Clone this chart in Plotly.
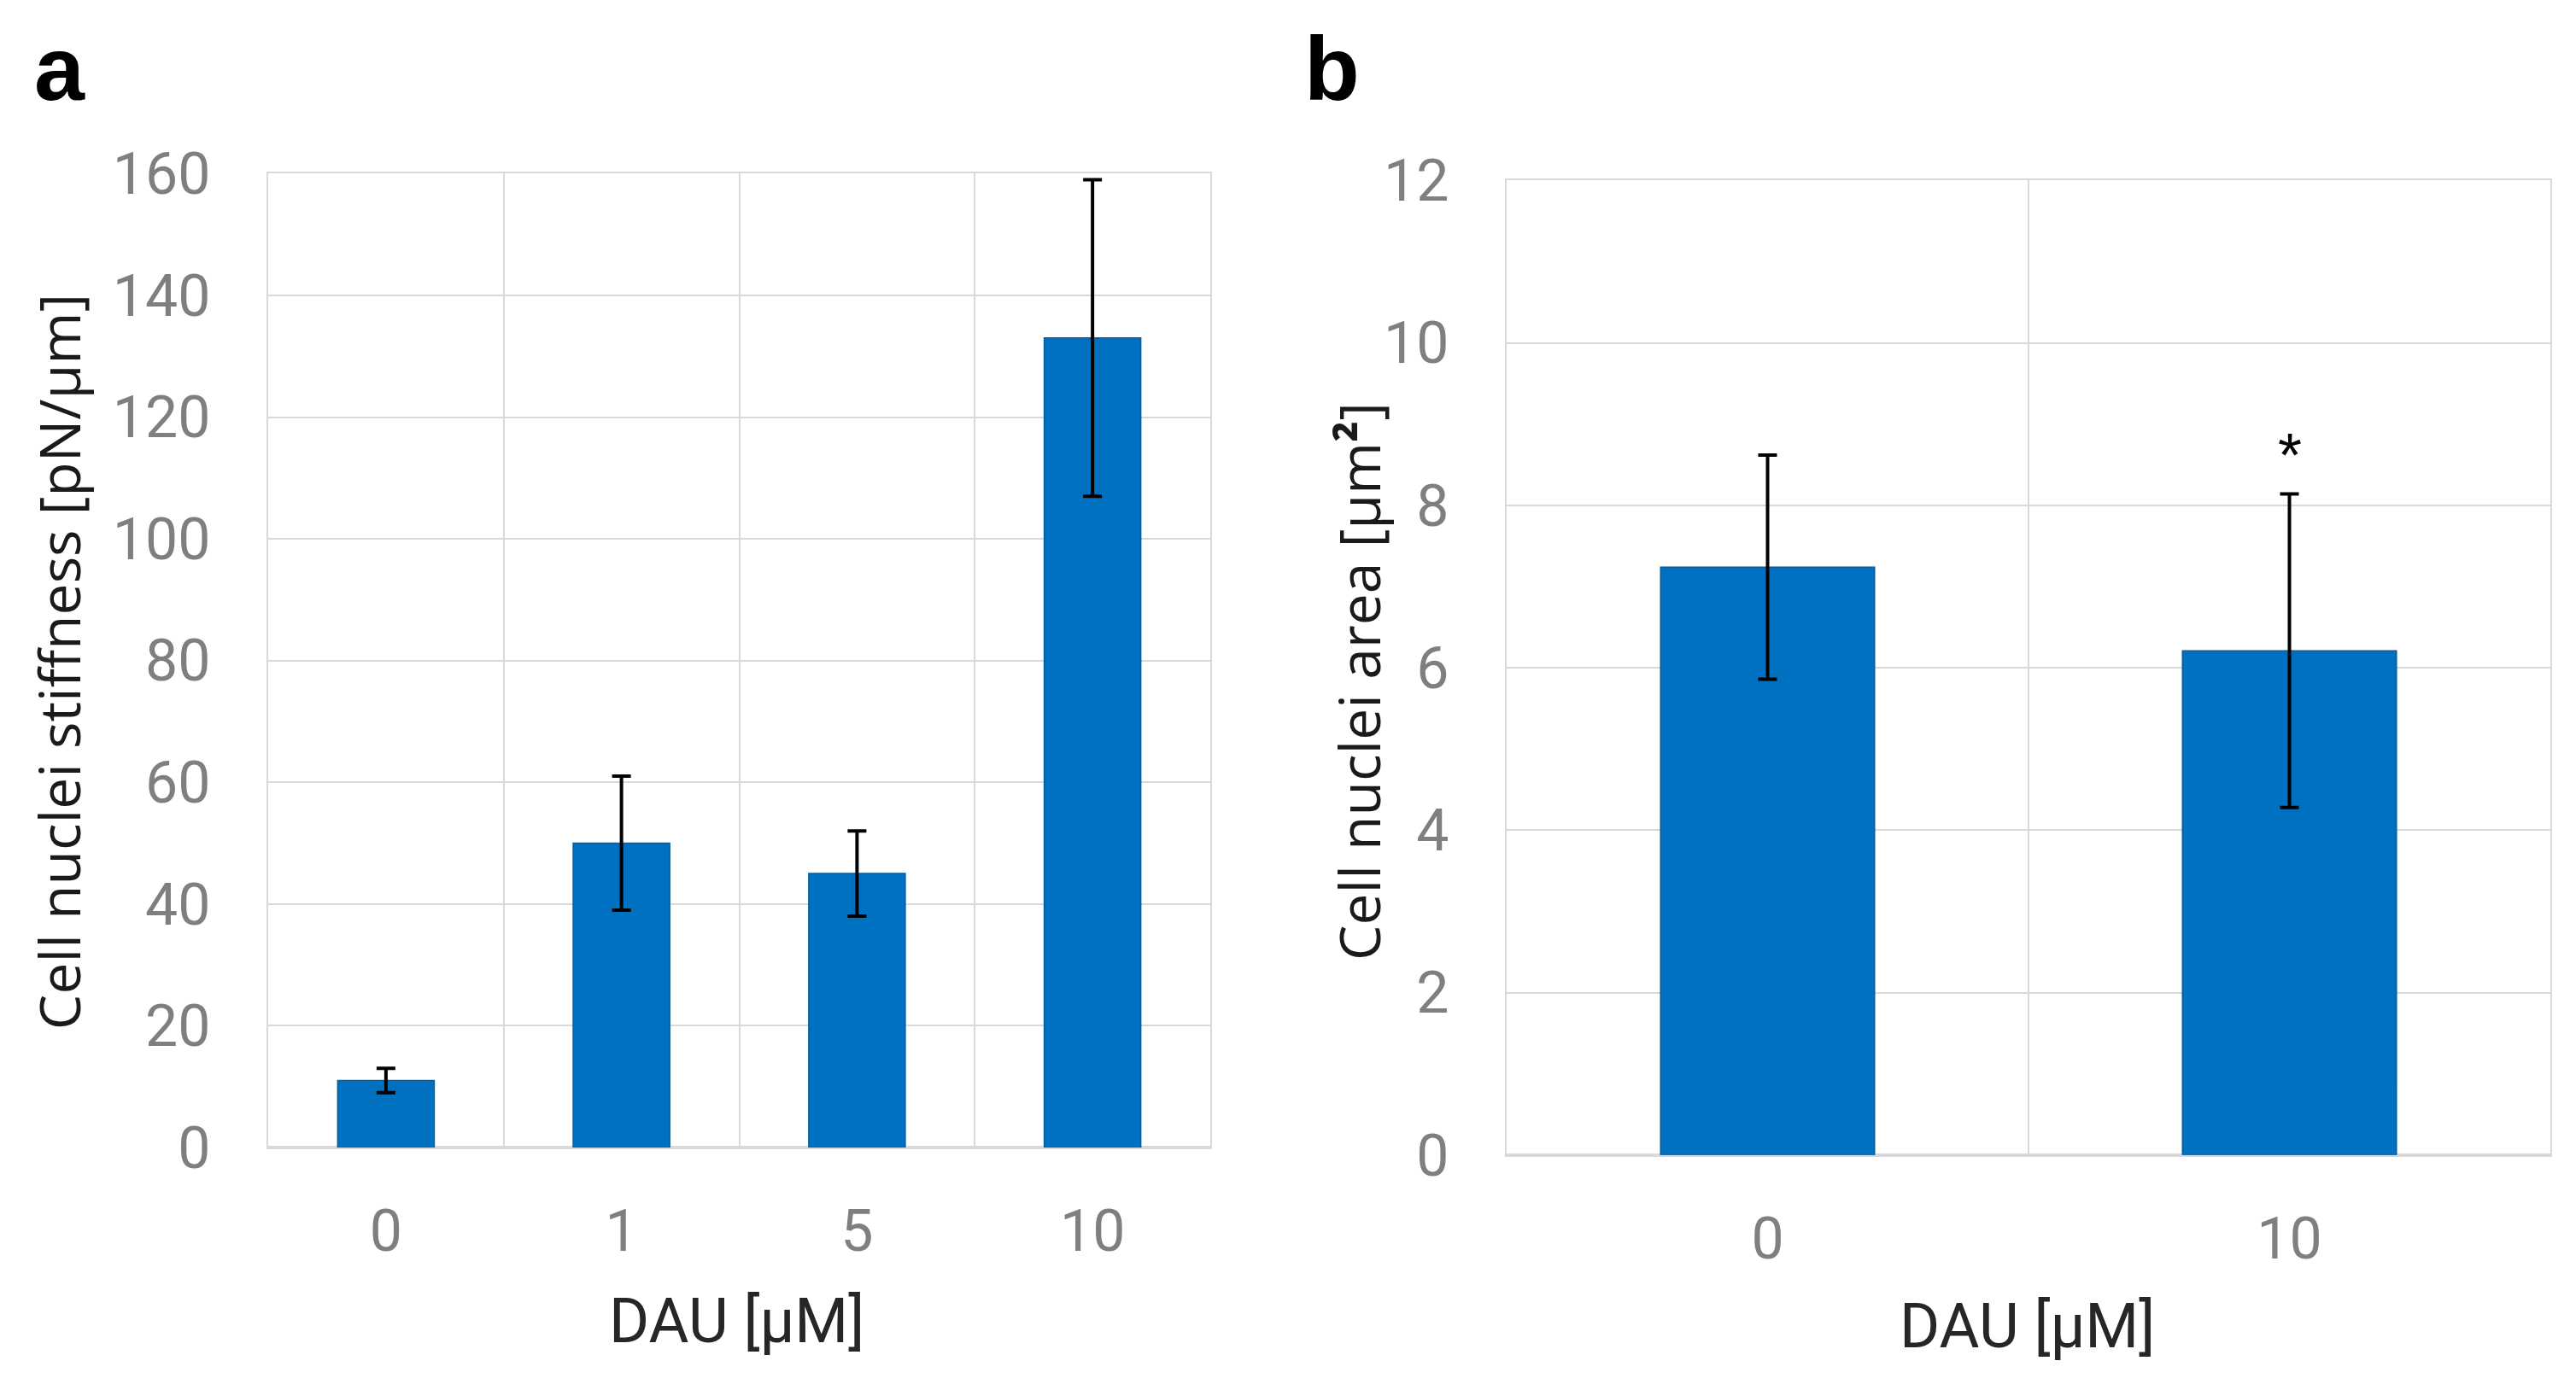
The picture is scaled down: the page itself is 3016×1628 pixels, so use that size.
import plotly.graph_objects as go

# Panel a data
cats_a = ["0", "1", "5", "10"]
stiff_mean = [11, 50, 45, 133]
stiff_err = [2, 11, 7, 26]

# Panel b data
cats_b = ["0", "10"]
area_mean = [7.24, 6.21]
area_err = [1.38, 1.93]
sig_b = ["", "*"]

BAR = "#0070C0"
GRID = "#D9D9D9"
TICKC = "#7F7F7F"
TICKFONT = "Liberation Sans Narrow, Roboto, sans-serif"
TITLEFONT = "Open Sans, Noto Sans, sans-serif"

H = 1628.0
W = 3016.0
def fy(px):
    # vertical pixel (from top) -> paper fraction, with empirical render correction
    return 1 - ((px - 44) / 0.9546) / H

fig = go.Figure()

xa = list(range(len(cats_a)))
xb = list(range(len(cats_b)))

err_style = dict(type="data", color="black", thickness=4, width=11)

fig.add_trace(go.Bar(x=xa, y=stiff_mean, width=0.41,
                     marker=dict(color=BAR, line=dict(color="#0a5d9a", width=1.5)),
                     error_y=dict(array=stiff_err, **err_style),
                     xaxis="x", yaxis="y", showlegend=False))
fig.add_trace(go.Bar(x=xb, y=area_mean, width=0.41,
                     marker=dict(color=BAR, line=dict(color="#0a5d9a", width=1.5)),
                     error_y=dict(array=area_err, **err_style),
                     xaxis="x2", yaxis="y2", showlegend=False))

def xaxis(dom, cats, anchor):
    n = len(cats)
    return dict(domain=dom, anchor=anchor, range=[-0.5, n - 0.5],
                tickmode="array", tickvals=list(range(n)), ticktext=cats,
                showgrid=False, zeroline=False, ticks="",
                showline=True, mirror=True, linecolor=GRID, linewidth=2,
                tickfont=dict(family=TICKFONT, size=68, color=TICKC),
                ticklabelstandoff=38,
                minor=dict(tickmode="array", tickvals=[i + 0.5 for i in range(n - 1)],
                           showgrid=True, gridcolor=GRID, gridwidth=2, ticks=""),
                fixedrange=True)

def yaxis(dom, rng, dtick, anchor):
    return dict(domain=dom, anchor=anchor, range=rng, dtick=dtick,
                showgrid=True, gridcolor=GRID, gridwidth=2,
                zeroline=True, zerolinecolor=GRID, zerolinewidth=3,
                showline=True, mirror=True, linecolor=GRID, linewidth=2,
                ticks="",
                tickfont=dict(family=TICKFONT, size=68, color=TICKC),
                ticklabelstandoff=52, fixedrange=True)

fig.update_layout(
    width=3016, height=1628,
    margin=dict(l=0, r=0, t=0, b=0),
    paper_bgcolor="white", plot_bgcolor="white",
    xaxis=xaxis([306 / W, 1409 / W], cats_a, "y"),
    yaxis=yaxis([fy(1346), fy(201)], [0, 160], 20, "x"),
    xaxis2=xaxis([1756 / W, 2978 / W], cats_b, "y2"),
    yaxis2=yaxis([fy(1355), fy(209)], [0, 12], 2, "x2"),
)

ann = []
# panel letters
ann.append(dict(text="<b>a</b>", x=30 / W, y=1 - 35 / H, xref="paper", yref="paper",
                xanchor="left", yanchor="middle", showarrow=False,
                font=dict(family="Liberation Sans, Arial, sans-serif", size=106, color="black")))
ann.append(dict(text="<b>b</b>", x=1517 / W, y=1 - 35 / H, xref="paper", yref="paper",
                xanchor="left", yanchor="middle", showarrow=False,
                font=dict(family="Liberation Sans, Arial, sans-serif", size=106, color="black")))
# y titles
ann.append(dict(text="Cell nuclei stiffness [pN/µm]", x=60 / W, y=fy(775),
                xref="paper", yref="paper", textangle=-90, showarrow=False,
                xanchor="center", yanchor="middle",
                font=dict(family=TITLEFONT, size=66, color="#1a1a1a")))
ann.append(dict(text="Cell nuclei area [µm<b>²</b>]", x=1582 / W, y=fy(798),
                xref="paper", yref="paper", textangle=-90, showarrow=False,
                xanchor="center", yanchor="middle",
                font=dict(family=TITLEFONT, size=66, color="#1a1a1a")))
# x titles
ann.append(dict(text="DAU [µM]", x=854 / W, y=1 - 1578 / H, xref="paper", yref="paper",
                showarrow=False, xanchor="center", yanchor="middle",
                font=dict(family=TICKFONT, size=72, color="#262626")))
ann.append(dict(text="DAU [µM]", x=2365 / W, y=1 - 1584 / H, xref="paper", yref="paper",
                showarrow=False, xanchor="center", yanchor="middle",
                font=dict(family=TICKFONT, size=72, color="#262626")))
# significance marks
for i, s in enumerate(sig_b):
    if s:
        ann.append(dict(text=s, x=xb[i], y=area_mean[i] + area_err[i], xref="x2", yref="y2",
                        showarrow=False, yanchor="bottom", yshift=4,
                        font=dict(family="Liberation Sans, Arial, sans-serif", size=72, color="black")))
fig.update_layout(annotations=ann)

fig.write_html("out.html")
